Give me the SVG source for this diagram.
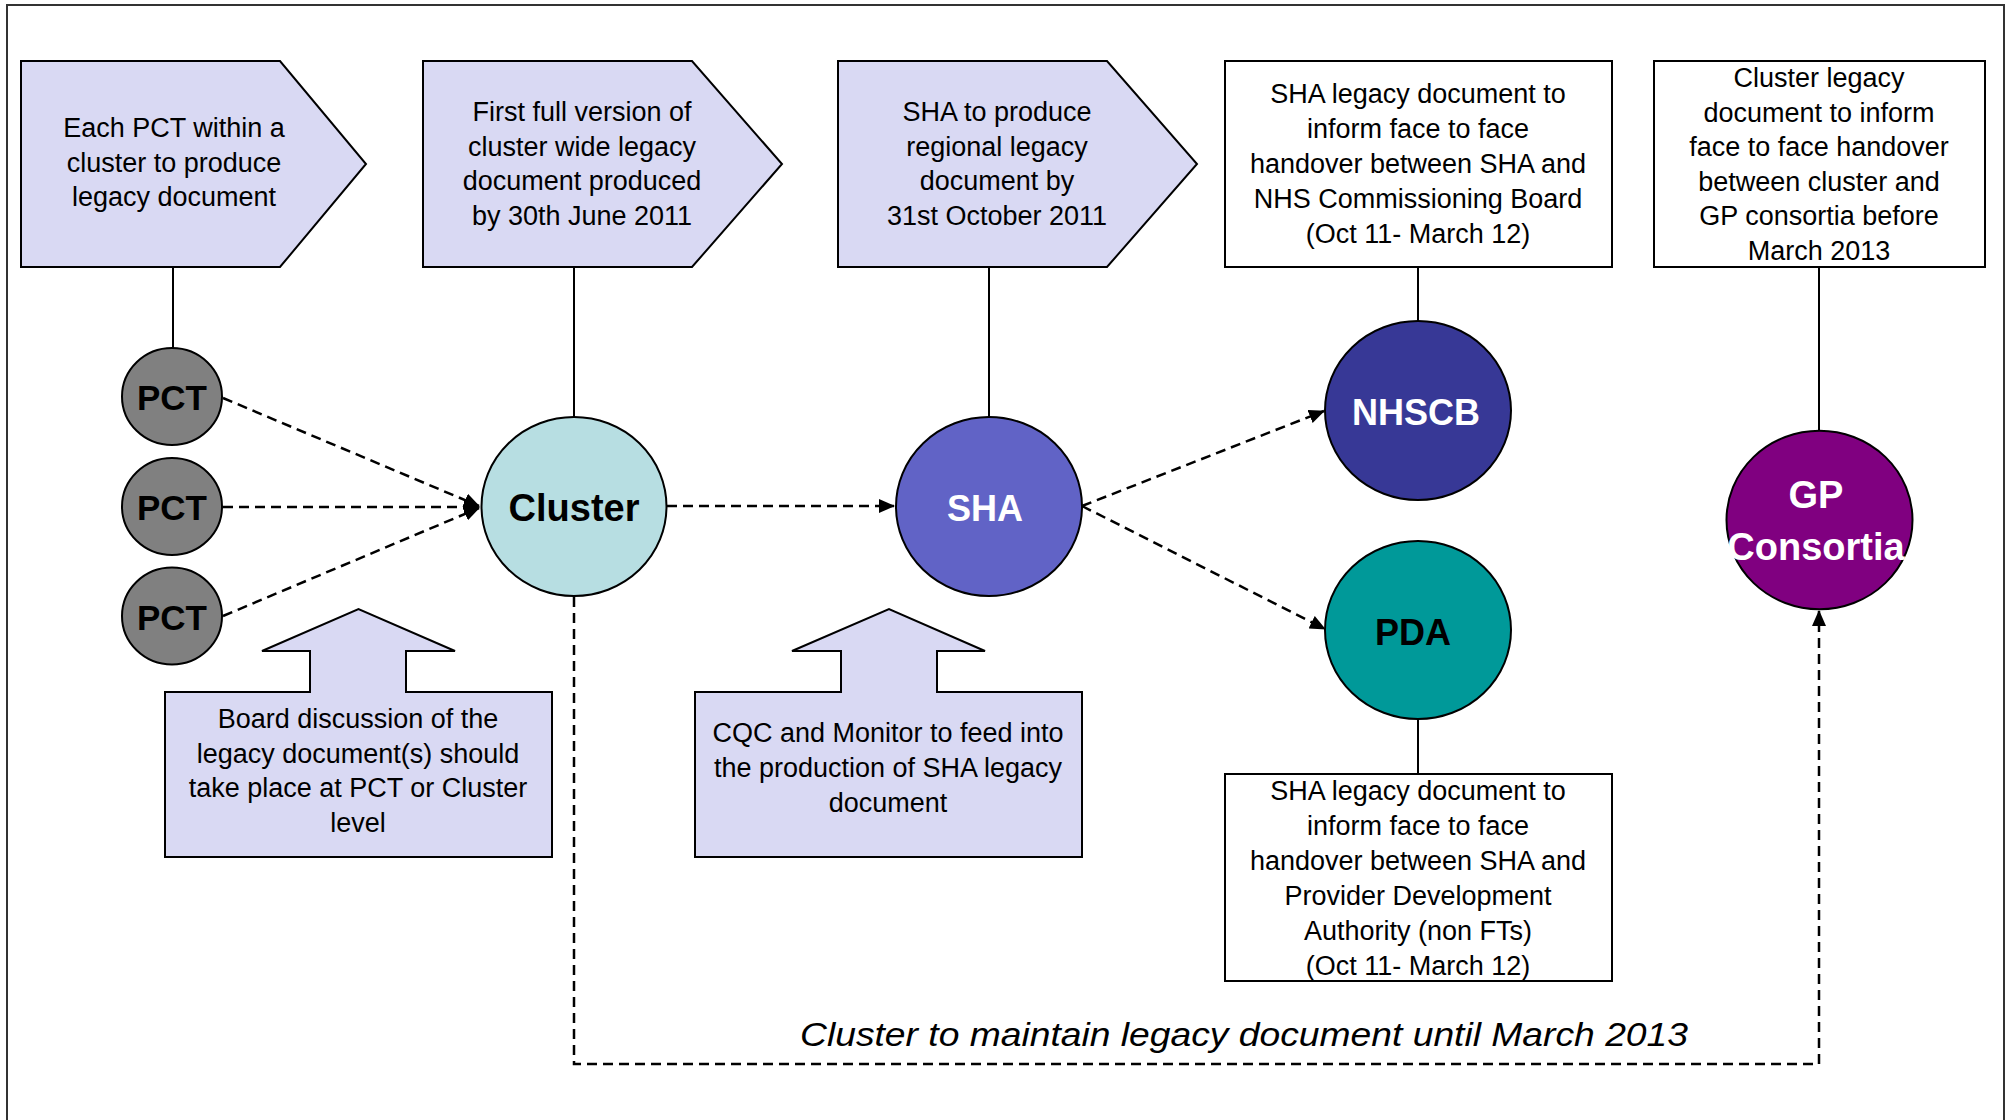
<svg xmlns="http://www.w3.org/2000/svg" width="2010" height="1120" viewBox="0 0 2010 1120">
<style>
.t{font-family:"Liberation Sans",Arial,sans-serif;font-size:27px;fill:#000;text-anchor:middle}
.b{font-family:"Liberation Sans",Arial,sans-serif;font-weight:bold;text-anchor:middle}
.lav{fill:#D9D9F3;stroke:#000;stroke-width:2}
.box{fill:#fff;stroke:#000;stroke-width:2}
.solid{stroke:#000;stroke-width:2;fill:none}
.dash{stroke:#000;stroke-width:2.5;fill:none;stroke-dasharray:10 6}
.node{stroke:#000;stroke-width:2}
</style>
<defs>
<marker id="ah" markerUnits="userSpaceOnUse" markerWidth="16" markerHeight="14" refX="15" refY="7" orient="auto">
<path d="M0,0 L16,7 L0,14 Z" fill="#000"/>
</marker>
</defs>
<path d="M7,1120 V5 H2004 V1120" fill="none" stroke="#333" stroke-width="2"/>

<g id="connectors">
<line class="solid" x1="173" y1="267" x2="173" y2="348"/>
<line class="solid" x1="574" y1="267" x2="574" y2="417"/>
<line class="solid" x1="989" y1="267" x2="989" y2="417"/>
<line class="solid" x1="1418" y1="267" x2="1418" y2="321"/>
<line class="solid" x1="1819" y1="267" x2="1819" y2="431"/>
<line class="solid" x1="1418" y1="719" x2="1418" y2="774"/>
<line class="dash" x1="223" y1="398" x2="479" y2="506" marker-end="url(#ah)"/>
<line class="dash" x1="223" y1="507" x2="479" y2="507" marker-end="url(#ah)"/>
<line class="dash" x1="223" y1="616" x2="479" y2="508" marker-end="url(#ah)"/>
<line class="dash" x1="667" y1="506" x2="894" y2="506" marker-end="url(#ah)"/>
<line class="dash" x1="1082" y1="506" x2="1324" y2="411" marker-end="url(#ah)"/>
<line class="dash" x1="1082" y1="506" x2="1325" y2="629" marker-end="url(#ah)"/>
<path class="dash" d="M574,597 V1064 H1819 V611" marker-end="url(#ah)"/>
</g>

<g id="step1">
<polygon class="lav" points="21,61 280,61 366,164 280,267 21,267"/>
<text class="t" x="174" y="137">Each PCT within a</text>
<text class="t" x="174" y="171.5">cluster to produce</text>
<text class="t" x="174" y="206">legacy document</text>
</g>
<g id="step2">
<polygon class="lav" points="423,61 692,61 782,164 692,267 423,267"/>
<text class="t" x="582" y="121">First full version of</text>
<text class="t" x="582" y="155.5">cluster wide legacy</text>
<text class="t" x="582" y="190">document produced</text>
<text class="t" x="582" y="224.5">by 30th June 2011</text>
</g>
<g id="step3">
<polygon class="lav" points="838,61 1107,61 1197,164 1107,267 838,267"/>
<text class="t" x="997" y="121">SHA to produce</text>
<text class="t" x="997" y="155.5">regional legacy</text>
<text class="t" x="997" y="190">document by</text>
<text class="t" x="997" y="224.5">31st October 2011</text>
</g>
<g id="box-nhscb">
<rect class="box" x="1225" y="61" width="387" height="206"/>
<text class="t" x="1418" y="103">SHA legacy document to</text>
<text class="t" x="1418" y="138">inform face to face</text>
<text class="t" x="1418" y="173">handover between SHA and</text>
<text class="t" x="1418" y="208">NHS Commissioning Board</text>
<text class="t" x="1418" y="243">(Oct 11- March 12)</text>
</g>
<g id="box-gp">
<rect class="box" x="1654" y="61" width="331" height="206"/>
<text class="t" x="1819" y="87">Cluster legacy</text>
<text class="t" x="1819" y="121.5">document to inform</text>
<text class="t" x="1819" y="156">face to face handover</text>
<text class="t" x="1819" y="190.5">between cluster and</text>
<text class="t" x="1819" y="225">GP consortia before</text>
<text class="t" x="1819" y="259.5">March 2013</text>
</g>

<g id="pct1">
<ellipse class="node" cx="172" cy="396.5" rx="50" ry="48.5" fill="#808080"/>
<text class="b" x="172" y="410" font-size="35">PCT</text>
</g>
<g id="pct2">
<ellipse class="node" cx="172" cy="506.5" rx="50" ry="48.5" fill="#808080"/>
<text class="b" x="172" y="520" font-size="35">PCT</text>
</g>
<g id="pct3">
<ellipse class="node" cx="172" cy="616" rx="50" ry="48.5" fill="#808080"/>
<text class="b" x="172" y="630" font-size="35">PCT</text>
</g>
<g id="cluster">
<ellipse class="node" cx="574" cy="506.5" rx="92.5" ry="89.5" fill="#B7DEE2"/>
<text class="b" x="574" y="521" font-size="38">Cluster</text>
</g>
<g id="sha">
<ellipse class="node" cx="989" cy="506.5" rx="93" ry="89.5" fill="#6163C6"/>
<text class="b" x="985" y="521" font-size="36" fill="#fff">SHA</text>
</g>
<g id="nhscb">
<ellipse class="node" cx="1418" cy="410.5" rx="93" ry="89.5" fill="#373896"/>
<text class="b" x="1416" y="425" font-size="36" fill="#fff">NHSCB</text>
</g>
<g id="pda">
<ellipse class="node" cx="1418" cy="630" rx="93" ry="89" fill="#009999"/>
<text class="b" x="1413" y="645" font-size="36">PDA</text>
</g>
<g id="gp">
<ellipse class="node" cx="1819.5" cy="520" rx="93" ry="89.3" fill="#800080"/>
<text class="b" x="1816" y="508" font-size="38" fill="#fff">GP</text>
<text class="b" x="1816" y="560" font-size="38" fill="#fff">Consortia</text>
</g>

<g id="callout-board">
<polygon class="lav" points="165,692 310,692 310,651 262,651 358.5,609 455,651 406,651 406,692 552,692 552,857 165,857"/>
<text class="t" x="358" y="728">Board discussion of the</text>
<text class="t" x="358" y="762.5">legacy document(s) should</text>
<text class="t" x="358" y="797">take place at PCT or Cluster</text>
<text class="t" x="358" y="831.5">level</text>
</g>
<g id="callout-cqc">
<polygon class="lav" points="695,692 841,692 841,651 792,651 889,609 985,651 937,651 937,692 1082,692 1082,857 695,857"/>
<text class="t" x="888" y="742">CQC and Monitor to feed into</text>
<text class="t" x="888" y="777">the production of SHA legacy</text>
<text class="t" x="888" y="812">document</text>
</g>
<g id="box-pda">
<rect class="box" x="1225" y="774" width="387" height="207"/>
<text class="t" x="1418" y="800">SHA legacy document to</text>
<text class="t" x="1418" y="835">inform face to face</text>
<text class="t" x="1418" y="870">handover between SHA and</text>
<text class="t" x="1418" y="905">Provider Development</text>
<text class="t" x="1418" y="940">Authority (non FTs)</text>
<text class="t" x="1418" y="975">(Oct 11- March 12)</text>
</g>
<g id="label-maintain">
<text x="1244" y="1046" font-family="Liberation Sans, Arial, sans-serif" font-style="italic" font-size="34" text-anchor="middle" textLength="888" lengthAdjust="spacingAndGlyphs">Cluster to maintain legacy document until March 2013</text>
</g>
</svg>
